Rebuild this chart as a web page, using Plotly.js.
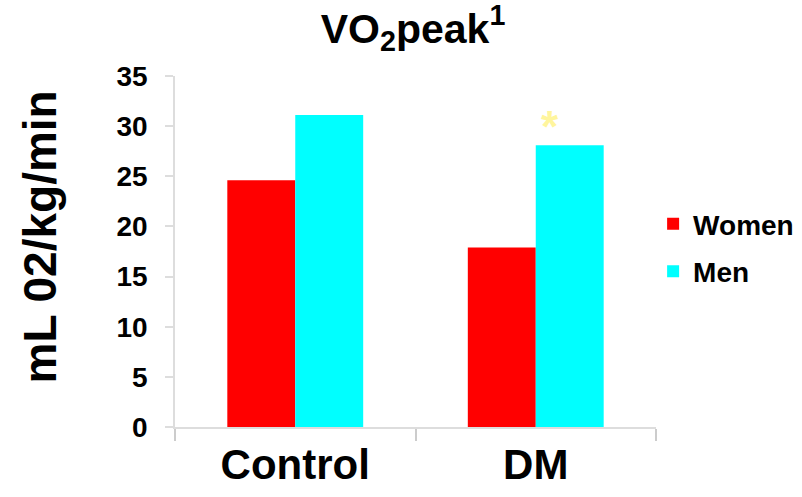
<!DOCTYPE html>
<html><head><meta charset="utf-8">
<script src="https://cdn.plot.ly/plotly-3.0.1.min.js"></script>
<style>body{margin:0;background:#fff}#c{width:802px;height:497px}</style>
</head><body><div id="c"></div>
<script>
const categories = ["Control", "DM"];
const women = [24.6, 17.9];
const men = [31.1, 28.1];
const yTicks = [0, 5, 10, 15, 20, 25, 30, 35];
const yTitle = "mL 02/kg/min";

const font = {family: "Liberation Sans, Arial, sans-serif", color: "#000", weight: "bold"};
const data = [
  {type: "bar", name: "Women", x: categories, y: women, marker: {color: "#ff0000"}, legendgroup: "w"},
  {type: "bar", name: "Men", x: categories, y: men, marker: {color: "#00ffff"}, legendgroup: "m"}
];
const layout = {
  width: 802, height: 497,
  margin: {l: 175, r: 146, t: 76, b: 70, autoexpand: false},
  paper_bgcolor: "#fff", plot_bgcolor: "#fff",
  font: font,
  barmode: "group", bargap: 0.435, bargroupgap: 0,
  title: {text: "VO<sub>2</sub>peak<sup>1</sup>", font: Object.assign({}, font, {size: 41}),
          x: 0.515, xanchor: "center", yref: "container", y: 0.943, yanchor: "middle"},
  xaxis: {
    showline: true, linecolor: "#dddddd", linewidth: 1.5,
    ticks: "outside", tickson: "boundaries", ticklen: 12, tickcolor: "#cccccc", tickwidth: 1.5,
    tickfont: Object.assign({}, font, {size: 42}),
    showgrid: false
  },
  yaxis: {
    range: [0, 35], tickvals: yTicks, showgrid: false, zeroline: false,
    showline: true, linecolor: "#dddddd", linewidth: 1.5,
    ticks: "outside", ticklen: 8, tickcolor: "#dddddd", tickwidth: 1.5,
    tickfont: Object.assign({}, font, {size: 28}),
    ticklabelstandoff: 12
  },
  legend: {x: 0.994, xanchor: "left", y: 0.511, yanchor: "middle",
           font: Object.assign({}, font, {size: 28}), traceorder: "grouped", tracegroupgap: 8,
           bgcolor: "rgba(0,0,0,0)"},
  annotations: [
    {x: "DM", y: men[1], xref: "x", yref: "y", text: "*", showarrow: false,
     xshift: 14, yshift: 19, font: {family: "Liberation Sans, Arial, sans-serif", size: 44, color: "#fff59d", weight: "bold"}},
    {x: -0.28, y: 0.541, xref: "paper", yref: "paper", text: yTitle, textangle: -90, showarrow: false,
     xanchor: "center", yanchor: "middle", font: Object.assign({}, font, {size: 46})}
  ]
};
Plotly.newPlot("c", data, layout, {displayModeBar: false});
</script></body></html>
